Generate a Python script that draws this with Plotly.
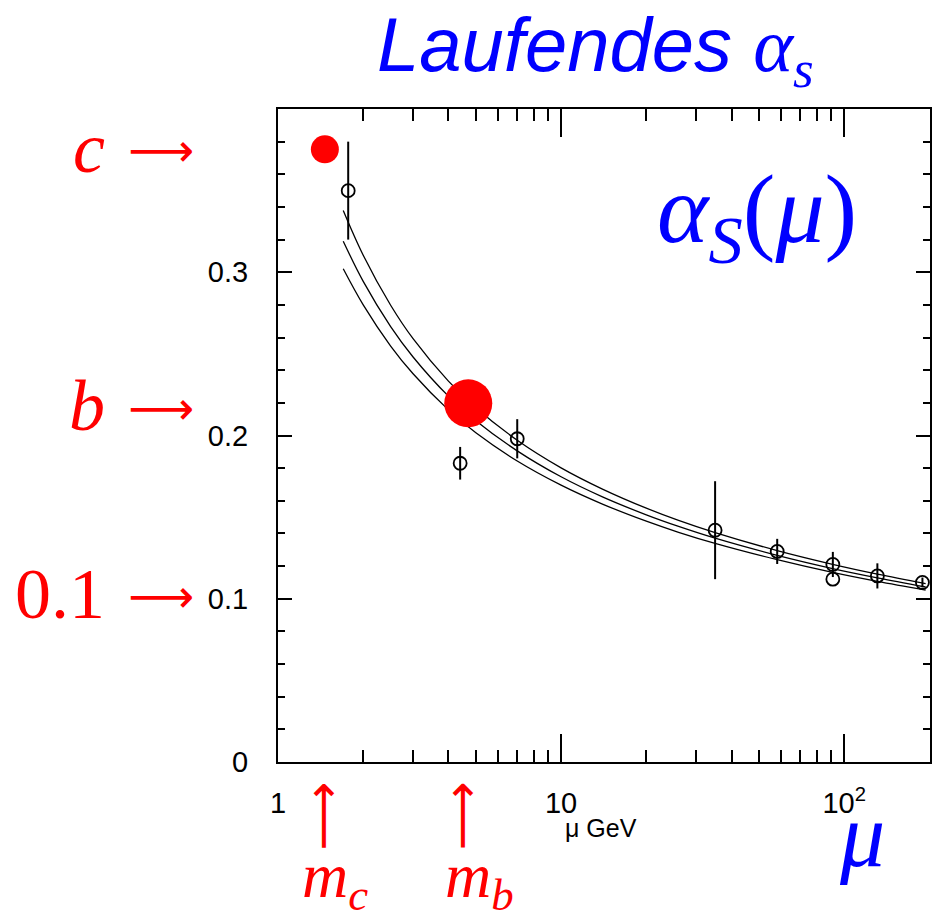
import plotly.graph_objects as go
import math

# ---- data ----
curve_mu = [1.7, 2.0, 2.5, 3.0, 4.0, 5.0, 7.0, 10, 14, 20, 26, 35, 58, 91, 131, 194]
curve_mid = [0.319, 0.2944, 0.2667, 0.2481, 0.2241, 0.2091, 0.1906, 0.1747, 0.1624, 0.1514,
             0.1443, 0.1371, 0.1266, 0.1185, 0.1128, 0.1072]
curve_top = [0.3378, 0.3104, 0.2798, 0.2593, 0.2333, 0.2170, 0.1971, 0.1802, 0.1672, 0.1555,
             0.1480, 0.1405, 0.1295, 0.1211, 0.1151, 0.1093]
curve_bot = [0.3021, 0.2800, 0.2548, 0.2378, 0.2157, 0.2017, 0.1844, 0.1696, 0.1580, 0.1475,
             0.1407, 0.1339, 0.1239, 0.1161, 0.1106, 0.1053]

meas_mu = [1.77, 4.4, 7.0, 35, 58, 91.2, 91.2, 131, 189]
meas_alpha = [0.350, 0.183, 0.198, 0.142, 0.129, 0.121, 0.112, 0.114, 0.110]
meas_err = [0.030, 0.010, 0.012, 0.030, 0.0077, 0.0077, 0.0, 0.0077, 0.003]

quark_mu = [1.464, 4.7]
quark_alpha = [0.3753, 0.2197]
quark_size = [28, 48]

x_tickvals = [1, 10, 100]
x_ticktext = ["1", "10", "10<sup>2</sup>"]
y_tickvals = [0, 0.1, 0.2, 0.3]
y_ticktext = ["0", "0.1", "0.2", "0.3"]

BLUE = "#0000ff"
RED = "#ff0000"

fig = go.Figure()
for ys in (curve_top, curve_mid, curve_bot):
    fig.add_trace(go.Scatter(x=curve_mu, y=ys, mode="lines",
                             line=dict(color="black", width=1.3, shape="spline", smoothing=1.0),
                             hoverinfo="skip", showlegend=False))

fig.add_trace(go.Scatter(x=meas_mu, y=meas_alpha, mode="markers",
                         marker=dict(symbol="circle-open", size=13, color="black", opacity=1,
                                     line=dict(width=1.8, color="black")),
                         error_y=dict(type="data", array=meas_err, visible=True,
                                      width=0, thickness=2, color="black"),
                         showlegend=False))
fig.add_trace(go.Scatter(x=quark_mu, y=quark_alpha, mode="markers",
                         marker=dict(symbol="circle", size=quark_size, color=RED, opacity=1,
                                     line=dict(width=0)),
                         showlegend=False))

axis_common = dict(showline=True, linecolor="black", linewidth=2, mirror="allticks",
                   ticks="inside", tickcolor="black", tickwidth=1.5, showgrid=False,
                   zeroline=False,
                   tickfont=dict(family="Liberation Sans, Arial", size=29, color="black"))

fig.update_layout(
    width=943, height=921,
    margin=dict(l=278, r=11, t=109, b=159),
    paper_bgcolor="white", plot_bgcolor="white",
    xaxis=dict(type="log", range=[0, math.log10(201)], tickvals=x_tickvals,
               ticktext=x_ticktext, ticklen=28, ticklabelstandoff=14,
               minor=dict(ticks="inside", ticklen=12, tickwidth=1.5, tickcolor="black",
                          dtick="D1", showgrid=False),
               **axis_common),
    yaxis=dict(range=[0, 0.4], tickvals=y_tickvals, ticktext=y_ticktext, ticklen=14,
               ticklabelstandoff=22,
               minor=dict(ticks="inside", ticklen=7, tickwidth=1.5, tickcolor="black",
                          dtick=0.02, showgrid=False),
               **axis_common),
    showlegend=False,
)

def px(x):
    return (x - 278) / 654

def py(y):
    return (762 - y) / 653

serif = "Liberation Serif, Times New Roman, serif"
ann = []

def add(x, y, text, font, xanchor="center", angle=0):
    ann.append(dict(x=px(x), y=py(y), xref="paper", yref="paper", showarrow=False,
                    xanchor=xanchor, yanchor="middle", text=text, font=font,
                    textangle=angle))

add(596, 50, "<i>Laufendes</i> <span style='font-family:Liberation Serif'><i>α<sub>s</sub></i></span>",
    dict(family="Liberation Sans, Arial", size=76, color=BLUE))
add(758, 216, "<i>α<sub>S</sub></i>(<i>μ</i>)", dict(family=serif, size=98, color=BLUE))
add(864, 836, "<i>μ</i>", dict(family=serif, size=90, color=BLUE))
add(602, 828, "μ GeV", dict(family="Liberation Sans, Arial", size=25, color="black"))

arrow_font = dict(family="DejaVu Sans", size=46, color=RED)
for label, yy in (("<i>c</i>", 148), ("<i>b</i>", 406), ("0.1", 594)):
    add(106, yy, label, dict(family=serif, size=72, color=RED), xanchor="right")
    add(161, yy + 2, "⟶", arrow_font)
for xx in (322, 462):
    add(xx, 816, "⟶", dict(family="DejaVu Sans", size=48, color=RED), angle=-90)
add(335, 880, "<i>m<sub>c</sub></i>", dict(family=serif, size=64, color=RED))
add(480, 880, "<i>m<sub>b</sub></i>", dict(family=serif, size=64, color=RED))
fig.update_layout(annotations=ann)

fig.write_html("out.html")
